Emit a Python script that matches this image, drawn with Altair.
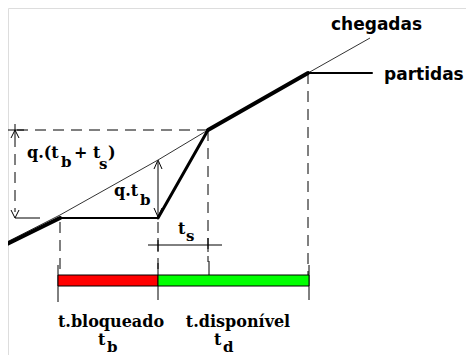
import altair as alt
import pandas as pd

# Diagram coordinates (x: time, y: cumulative count, in drawing units, y grows downward)
arr_x = [5, 60, 158, 208, 308, 370]
arr_y = [243, 215, 160, 130, 73, 38]

dep_x1 = [5, 60, 158, 208, 308]
dep_y1 = [245, 218, 218, 130, 73]
dep_x2 = [60, 158, 208, 308, 372]
dep_y2 = [218, 218, 130, 73, 73]
dep_w = [4, 2, 3, 4, 2]

dash_x1 = [17, 15, 60, 158, 208, 308]
dash_y1 = [130, 136, 222, 222, 130, 73]
dash_x2 = [208, 15, 60, 158, 208, 308]
dash_y2 = [130, 212, 275, 275, 262, 275]

thin_x1 = [15, 7, 148, 158, 208, 158, 158, 158, 158, 158, 15, 15, 15, 15, 15, 58, 158, 209, 309]
thin_y1 = [218, 130, 245, 238, 238, 162, 160, 160, 217, 217, 130, 130, 218, 218, 124, 265, 263, 261, 265]
thin_x2 = [40, 24, 222, 158, 208, 158, 154, 162, 154, 162, 11, 19, 11, 19, 15, 58, 158, 209, 309]
thin_y2 = [218, 130, 245, 252, 252, 216, 169, 169, 208, 208, 138, 138, 210, 210, 136, 302, 300, 276, 300]

bar_start = [58, 158]
bar_end = [158, 309]
bar_name = ["t.bloqueado", "t.disponível"]
bar_color = ["#ff0000", "#00ff00"]

txt = ["q.(t", "b", "+ t", "s", ")", "q.t", "b", "t", "s",
       "t", "b", "t", "d"]
txt_x = [27, 61, 74, 99, 108, 114, 140, 178, 186, 98, 107, 214, 223]
txt_y = [153, 162, 153, 164, 153, 191, 200, 229, 236, 340, 347, 340, 347]
txt_s = [16, 15, 16, 15, 16, 16, 15, 16, 15, 16, 15, 16, 15]

lbl = ["t.bloqueado", "t.disponível"]
lbl_x = [111, 238]
lbl_y = [322, 322]

leg = ["chegadas", "partidas"]
leg_x = [331, 384]
leg_y = [25, 75]

W, H = 458, 347
xs = alt.Scale(domain=[8, 8 + W])
ys = alt.Scale(domain=[8 + H, 8])

def X(f):
    return alt.X(f, type="quantitative", scale=xs, axis=None)

def Y(f):
    return alt.Y(f, type="quantitative", scale=ys, axis=None)

arr_df = pd.DataFrame({"x": arr_x, "y": arr_y, "o": range(len(arr_x))})
arrivals = alt.Chart(arr_df).mark_line(color="#333333", strokeWidth=1).encode(
    x=X("x"), y=Y("y"), order="o:Q")

dep_df = pd.DataFrame({"x": dep_x1, "y": dep_y1, "x2": dep_x2, "y2": dep_y2, "w": dep_w})
departures = alt.Chart(dep_df).mark_rule(color="black", strokeCap="round").encode(
    x=X("x"), y=Y("y"), x2="x2", y2="y2",
    strokeWidth=alt.StrokeWidth("w:Q", scale=None))

dash_df = pd.DataFrame({"x": dash_x1, "y": dash_y1, "x2": dash_x2, "y2": dash_y2})
dashes = alt.Chart(dash_df).mark_rule(color="black", strokeWidth=1, strokeDash=[11, 7]).encode(
    x=X("x"), y=Y("y"), x2="x2", y2="y2")

thin_df = pd.DataFrame({"x": thin_x1, "y": thin_y1, "x2": thin_x2, "y2": thin_y2})
thins = alt.Chart(thin_df).mark_rule(color="black", strokeWidth=1).encode(
    x=X("x"), y=Y("y"), x2="x2", y2="y2")

bar_df = pd.DataFrame({"x": bar_start, "x2": bar_end, "n": bar_name, "c": bar_color,
                       "y": [275, 275], "y2": [286, 286]})
bars = alt.Chart(bar_df).mark_rect(stroke="black", strokeWidth=1).encode(
    x=X("x"), x2="x2", y=Y("y"), y2="y2",
    color=alt.Color("c:N", scale=None))

txt_df = pd.DataFrame({"t": txt, "x": txt_x, "y": txt_y, "s": txt_s})
texts = alt.Chart(txt_df).mark_text(font="DejaVu Serif", fontWeight="bold", align="left",
                                     baseline="middle", color="black").encode(
    x=X("x"), y=Y("y"), text="t:N", size=alt.Size("s:Q", scale=None))

lbl_df = pd.DataFrame({"t": lbl, "x": lbl_x, "y": lbl_y})
labels = alt.Chart(lbl_df).mark_text(font="DejaVu Serif", fontWeight="bold", fontSize=16,
                                      align="center", baseline="middle", color="black").encode(
    x=X("x"), y=Y("y"), text="t:N")

leg_df = pd.DataFrame({"t": leg, "x": leg_x, "y": leg_y})
legs = alt.Chart(leg_df).mark_text(font="DejaVu Sans", fontWeight="bold", fontSize=17,
                                    align="left", baseline="middle", color="black").encode(
    x=X("x"), y=Y("y"), text="t:N")

chart = alt.layer(dashes, thins, arrivals, departures, bars, texts, labels, legs).properties(
    width=W, height=H, padding=0, autosize=alt.AutoSizeParams(type="none")
).configure_view(stroke=None).configure(background="white")

chart.save("out.html", embed_options={"renderer": "svg", "actions": False})
